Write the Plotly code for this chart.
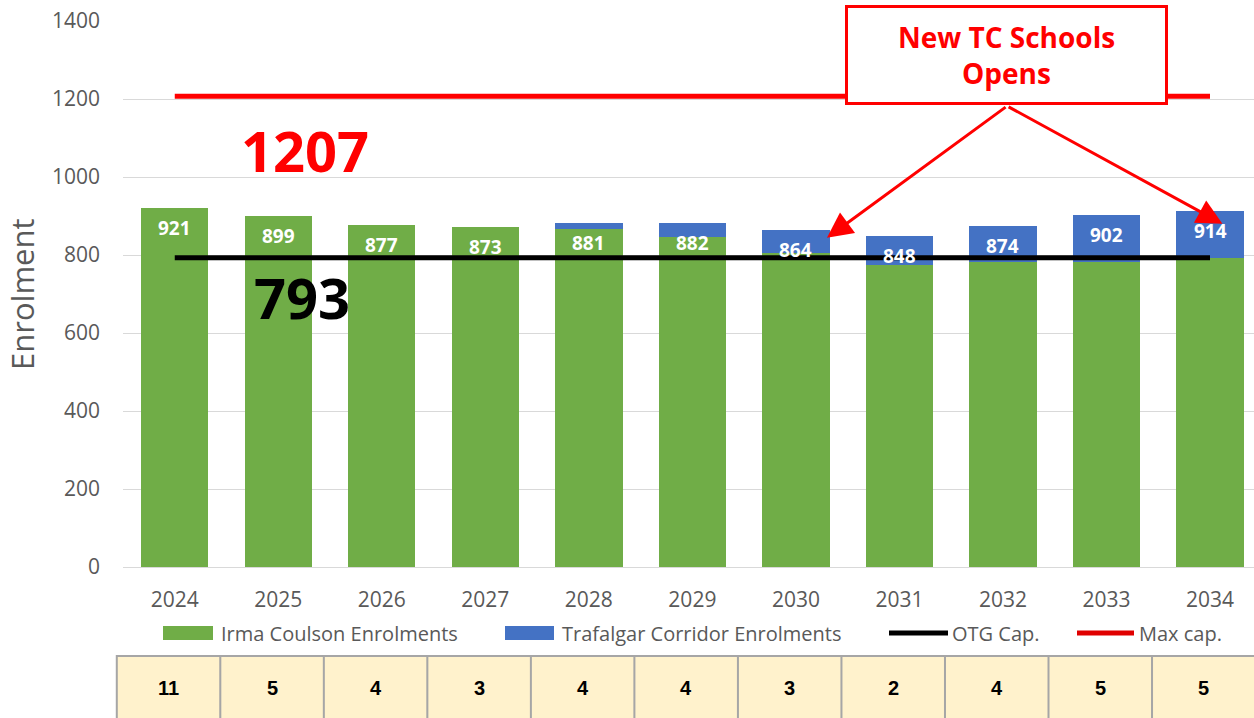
import plotly.graph_objects as go

years = ["2024", "2025", "2026", "2027", "2028", "2029", "2030", "2031", "2032", "2033", "2034"]
irma_coulson = [921, 899, 877, 873, 866, 845, 805, 775, 782, 782, 792]
trafalgar = [0, 0, 0, 0, 15, 37, 59, 73, 92, 120, 122]
totals = [921, 899, 877, 873, 881, 882, 864, 848, 874, 902, 914]
otg_cap = 793
max_cap = 1207
table_values = [11, 5, 4, 3, 4, 4, 3, 2, 4, 5, 5]
legend_names = ["Irma Coulson Enrolments", "Trafalgar Corridor Enrolments", "OTG Cap.", "Max cap."]

GREEN = "#70AD47"
BLUE = "#4472C4"
GRAY = "#595959"

W, H = 1254, 718
ML, MR, MT, MB = 123, 0, 21, 151
PW, PH = W - ML - MR, H - MT - MB

X_LO, X_HI = -0.5, 10.425
SPAN = X_HI - X_LO


def to_paper(xv):
    return (xv - X_LO) / SPAN


def px_x(p):
    return (p - ML) / PW


def px_y(p):
    return (H - MB - p) / PH


fig = go.Figure()
fig.add_trace(go.Bar(x=years, y=irma_coulson, name=legend_names[0],
                     marker=dict(color=GREEN, line=dict(width=0))))
fig.add_trace(go.Bar(x=years, y=trafalgar, name=legend_names[1],
                     marker=dict(color=BLUE, line=dict(width=0))))
fig.add_trace(go.Scatter(x=years, y=[otg_cap] * len(years), mode="lines", name=legend_names[2],
                         line=dict(color="black", width=5)))
fig.add_trace(go.Scatter(x=years, y=[max_cap] * len(years), mode="lines", name=legend_names[3],
                         line=dict(color="#FF0000", width=5)))

annotations = []
for i, t in enumerate(totals):
    annotations.append(dict(x=i, y=t, xref="x", yref="y", text=f"<b>{t}</b>",
                            showarrow=False, yanchor="middle", yshift=-20,
                            font=dict(family="Open Sans", size=19, color="white")))

annotations.append(dict(x=1.26, y=1069, xref="x", yref="y", text=f"<b>{max_cap}</b>", showarrow=False,
                        font=dict(family="Open Sans", size=56, color="#FF0000")))
annotations.append(dict(x=1.23, y=692, xref="x", yref="y", text=f"<b>{otg_cap}</b>", showarrow=False,
                        font=dict(family="Open Sans", size=56, color="black")))

# arrows
for tx, ty in [(6.30, 844), (10.12, 880)]:
    annotations.append(dict(x=tx, y=ty, xref="x", yref="y", ax=8.04, ay=1182, axref="x", ayref="y",
                            text="", showarrow=True, arrowhead=2, arrowsize=1.7, arrowwidth=3,
                            arrowcolor="#FF0000"))

# callout box
annotations.append(dict(x=8.03, y=0.938, xref="x", yref="paper", xanchor="center", yanchor="middle",
                        text="<b>New TC Schools<br>Opens</b>",
                        showarrow=False, align="center", width=317, height=94,
                        bgcolor="white", bordercolor="#FF0000", borderwidth=3, borderpad=0,
                        font=dict(family="Open Sans", size=28, color="#FF0000")))

# y-axis title
annotations.append(dict(x=px_x(22), y=0.5, xref="paper", yref="paper", text="Enrolment", textangle=-90,
                        showarrow=False, xanchor="center", yanchor="middle",
                        font=dict(family="Open Sans", size=31, color=GRAY)))

shapes = []
# bottom table
for i, v in enumerate(table_values):
    shapes.append(dict(type="rect", xref="paper", yref="paper",
                       x0=to_paper(i - 0.56), x1=to_paper(i + 0.445),
                       y0=-0.29, y1=-0.163, fillcolor="#FFF2CC",
                       line=dict(color="#A6A6A6", width=2), layer="above"))
    annotations.append(dict(x=to_paper(i - 0.06), y=-0.221, xref="paper", yref="paper", text=f"<b>{v}</b>",
                            showarrow=False, yanchor="middle", xanchor="center",
                            font=dict(family="Liberation Sans", size=20, color="black")))

# legend (drawn by hand to match the wide swatches and spacing)
LEG_Y = 633
legend_items = [
    (legend_names[0], "rect", GREEN, 163, 213, 219),
    (legend_names[1], "rect", BLUE, 505, 554, 560),
    (legend_names[2], "line", "black", 889, 948, 950),
    (legend_names[3], "line", "#E00000", 1077, 1134, 1137),
]
for name, kind, col, s0, s1, tx in legend_items:
    if kind == "rect":
        shapes.append(dict(type="rect", xref="paper", yref="paper", x0=px_x(s0), x1=px_x(s1),
                           y0=px_y(LEG_Y + 7), y1=px_y(LEG_Y - 7), fillcolor=col, line=dict(width=0)))
    else:
        shapes.append(dict(type="line", xref="paper", yref="paper", x0=px_x(s0), x1=px_x(s1),
                           y0=px_y(LEG_Y), y1=px_y(LEG_Y), line=dict(color=col, width=5)))
    annotations.append(dict(x=px_x(tx), y=px_y(LEG_Y), xref="paper", yref="paper", text=name,
                            showarrow=False, xanchor="left", yanchor="middle",
                            font=dict(family="Open Sans", size=20, color=GRAY)))

fig.update_layout(
    width=W, height=H,
    margin=dict(l=ML, r=MR, t=MT, b=MB),
    barmode="stack", bargap=0.35,
    showlegend=False,
    plot_bgcolor="white", paper_bgcolor="white",
    xaxis=dict(type="category", range=[X_LO, X_HI], showgrid=False, showline=False,
               ticks="", ticklabelstandoff=18,
               tickfont=dict(family="Open Sans", size=21, color=GRAY)),
    yaxis=dict(range=[0, 1400], dtick=200, showgrid=True, gridcolor="#D9D9D9", gridwidth=1,
               zeroline=True, zerolinecolor="#D9D9D9", zerolinewidth=1, showline=False,
               ticks="", ticklabelstandoff=22,
               tickfont=dict(family="Open Sans", size=21, color=GRAY)),
    annotations=annotations,
    shapes=shapes,
)

fig.write_html("out.html", config={"displayModeBar": False},
               post_script="document.body.style.margin='0';")
